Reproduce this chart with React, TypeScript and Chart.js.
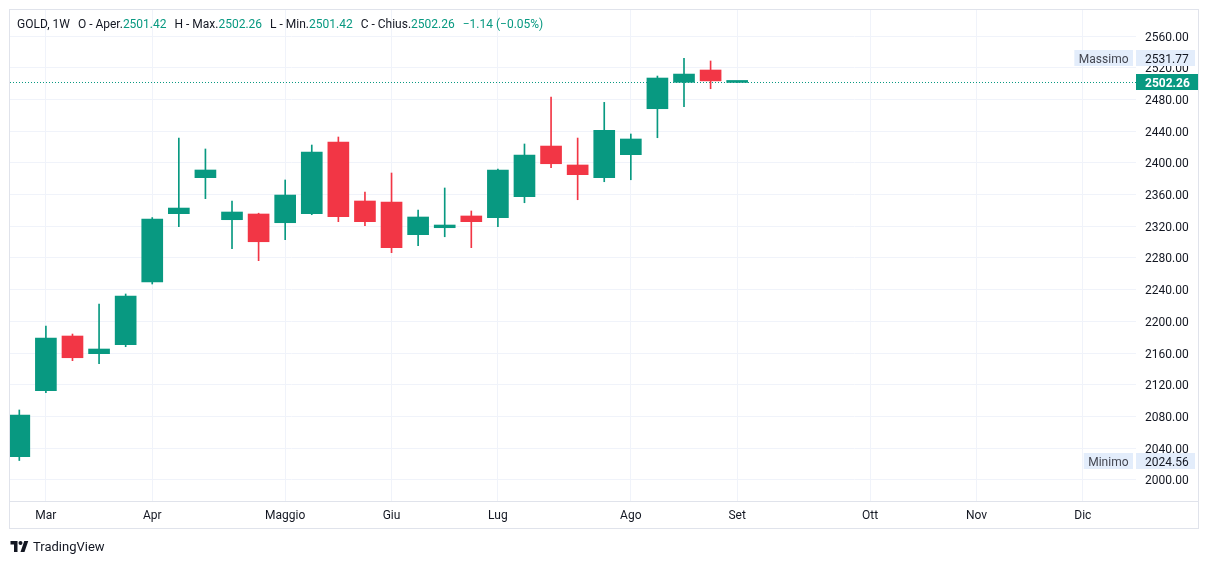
import React, { useEffect, useRef } from "react";
import { Chart, registerables } from "chart.js";

Chart.register(...registerables);

// ---- data ----
const weeks = [
  "2024-02-26", "2024-03-04", "2024-03-11", "2024-03-18", "2024-03-25",
  "2024-04-01", "2024-04-08", "2024-04-15", "2024-04-22", "2024-04-29",
  "2024-05-06", "2024-05-13", "2024-05-20", "2024-05-27", "2024-06-03",
  "2024-06-10", "2024-06-17", "2024-06-24", "2024-07-01", "2024-07-08",
  "2024-07-15", "2024-07-22", "2024-07-29", "2024-08-05", "2024-08-12",
  "2024-08-19", "2024-08-26", "2024-09-02",
];
const opens = [
  2029.4, 2112.6, 2181.6, 2159.3, 2170.6, 2249.7, 2335.9, 2381.3, 2328.3, 2335.5,
  2324.5, 2335.9, 2426.3, 2351.9, 2350.6, 2309.4, 2318.2, 2333.0, 2330.8, 2357.3,
  2421.2, 2397.3, 2381.3, 2410.3, 2468.3, 2501.6, 2517.1, 2501.42,
];
const highs = [
  2088.3, 2194.2, 2184.1, 2222.0, 2234.6, 2331.0, 2431.3, 2417.5, 2351.9, 2336.5,
  2378.4, 2422.5, 2432.6, 2363.2, 2387.2, 2340.5, 2368.3, 2339.3, 2392.2, 2423.8,
  2483.0, 2431.3, 2476.3, 2436.4, 2509.5, 2531.77, 2528.5, 2502.26,
];
const lows = [
  2024.56, 2110.1, 2150.5, 2146.7, 2168.1, 2247.2, 2319.5, 2354.8, 2291.7, 2276.6,
  2303.1, 2334.6, 2325.8, 2320.7, 2286.7, 2295.5, 2306.8, 2293.0, 2319.5, 2349.7,
  2393.9, 2353.5, 2376.2, 2378.7, 2431.7, 2470.8, 2493.5, 2501.42,
];
const closes = [
  2082.0, 2179.1, 2154.2, 2165.2, 2232.0, 2329.2, 2343.0, 2391.0, 2338.0, 2300.5,
  2359.4, 2413.7, 2332.1, 2325.8, 2293.0, 2331.7, 2321.6, 2325.8, 2391.0, 2409.9,
  2398.9, 2385.1, 2441.0, 2430.1, 2507.0, 2512.0, 2503.4, 2502.26,
];
const monthTickIndex = [1, 5, 10, 14, 18, 23, 27, 32, 36, 40];
const monthLabels = ["Mar", "Apr", "Maggio", "Giu", "Lug", "Ago", "Set", "Ott", "Nov", "Dic"];
const priceTicks = [
  2000, 2040, 2080, 2120, 2160, 2200, 2240, 2280, 2320, 2360, 2400, 2440, 2480, 2520, 2560,
];
const highestValue = 2531.77;
const lowestValue = 2024.56;
const lastPrice = 2502.26;

const UP = "#089981";
const DOWN = "#F23645";
const GRID = "#f0f3fa";
const BORDER = "#e0e3eb";
const TEXT = "#131722";
const FONT = "Roboto, 'Noto Sans', sans-serif";

const overlayPlugin = {
  id: "tvOverlay",
  beforeDatasetsDraw(chart: any) {
    const { ctx, chartArea, scales } = chart;
    const py = Math.round(scales.y.getPixelForValue(lastPrice)) + 0.5;
    ctx.save();
    ctx.strokeStyle = UP;
    ctx.lineWidth = 1;
    ctx.setLineDash([1, 2]);
    ctx.beginPath();
    ctx.moveTo(chartArea.left, py);
    ctx.lineTo(chartArea.right, py);
    ctx.stroke();
    ctx.restore();
  },
  afterDraw(chart: any) {
    const { ctx, chartArea, scales } = chart;
    const y = scales.y;
    ctx.save();
    // x-axis top border
    ctx.strokeStyle = BORDER;
    ctx.lineWidth = 1;
    ctx.beginPath();
    ctx.moveTo(chartArea.left, chartArea.bottom + 0.5);
    ctx.lineTo(y.right, chartArea.bottom + 0.5);
    ctx.stroke();

    const axisLeft = y.left;
    const axisRight = y.right;
    const textX = axisLeft + 9;
    const drawHL = (name: string, value: number) => {
      const cy = Math.round(y.getPixelForValue(value));
      const h = 16;
      const top = cy - h / 2;
      ctx.font = `12px ${FONT}`;
      const nameW = ctx.measureText(name).width + 9;
      ctx.fillStyle = "#e3edfb";
      ctx.fillRect(axisLeft, top, axisRight - axisLeft - 3, h);
      ctx.fillRect(axisLeft - 3 - nameW, top, nameW, h);
      ctx.fillStyle = TEXT;
      ctx.textBaseline = "middle";
      ctx.textAlign = "left";
      ctx.fillText(value.toFixed(2), textX, cy + 1.5);
      ctx.fillStyle = "#434651";
      ctx.textAlign = "center";
      ctx.fillText(name, axisLeft - 3 - nameW / 2, cy + 1.5);
    };
    drawHL("Massimo", highestValue);
    drawHL("Minimo", lowestValue);

    // last price label
    const cy = Math.round(y.getPixelForValue(lastPrice));
    ctx.fillStyle = UP;
    ctx.fillRect(axisLeft, cy - 8, axisRight - axisLeft, 16);
    ctx.fillStyle = "#ffffff";
    ctx.font = `bold 12px ${FONT}`;
    ctx.textAlign = "left";
    ctx.textBaseline = "middle";
    ctx.fillText(lastPrice.toFixed(2), textX, cy + 1.5);
    ctx.restore();
  },
};

export default function App() {
  const ref = useRef<HTMLCanvasElement | null>(null);

  useEffect(() => {
    if (!ref.current) return;
    const colorFor = (i: number) => (closes[i] >= opens[i] ? UP : DOWN);
    const chart = new Chart(ref.current, {
      type: "bar",
      data: {
        labels: weeks,
        datasets: [
          {
            label: "wick",
            data: weeks.map((_, i) => ({ x: i, y: [lows[i], highs[i]] })) as any,
            backgroundColor: weeks.map((_, i) => colorFor(i)),
            barThickness: 1,
            grouped: false,
            order: 2,
          } as any,
          {
            label: "body",
            data: weeks.map((_, i) => ({ x: i, y: [opens[i], closes[i]] })) as any,
            backgroundColor: weeks.map((_, i) => colorFor(i)),
            barThickness: 21,
            minBarLength: 2,
            grouped: false,
            order: 1,
          } as any,
        ],
      },
      options: {
        animation: false,
        responsive: false,
        devicePixelRatio: 1,
        layout: { padding: { left: 10, top: 10, right: 11, bottom: 36 } },
        plugins: { legend: { display: false }, tooltip: { enabled: false } },
        scales: {
          x: {
            type: "linear",
            offset: false,
            min: -0.35,
            max: 42.0,
            grid: { color: GRID, drawTicks: false, tickLength: 0, offset: false },
            border: { display: false },
            afterBuildTicks: (scale: any) => {
              scale.ticks = monthTickIndex.map((v) => ({ value: v }));
            },
            afterFit: (scale: any) => {
              scale.height = 27;
              scale.paddingLeft = 0;
              scale.paddingRight = 0;
            },
            ticks: {
              autoSkip: false,
              maxRotation: 0,
              padding: 8,
              color: TEXT,
              font: { family: FONT, size: 12 },
              callback: (v: any) => {
                const k = monthTickIndex.indexOf(Number(v));
                return k >= 0 ? monthLabels[k] : "";
              },
            },
          },
          y: {
            type: "linear",
            position: "right",
            min: 1973.5,
            max: 2592.8,
            grid: { color: GRID, drawTicks: false, tickLength: 0 },
            border: { display: false },
            afterBuildTicks: (scale: any) => {
              scale.ticks = priceTicks.map((v) => ({ value: v }));
            },
            afterFit: (scale: any) => {
              scale.width = 62;
              scale.paddingTop = 0;
              scale.paddingBottom = 0;
            },
            ticks: {
              autoSkip: false,
              padding: 9,
              labelOffset: 1.5,
              crossAlign: "near",
              color: TEXT,
              font: { family: FONT, size: 12 },
              callback: (v: any) => Number(v).toFixed(2),
            },
          },
        },
      } as any,
      plugins: [overlayPlugin],
    });
    return () => chart.destroy();
  }, []);

  const val = { color: UP };
  const gap = { marginLeft: 8 };
  return (
    <div style={{ position: "absolute", left: 0, top: 0, width: 1209, height: 564, background: "#fff", fontFamily: FONT }}>
      <div
        style={{
          position: "absolute",
          left: 9,
          top: 9,
          width: 1190,
          height: 520,
          border: `1px solid ${BORDER}`,
          boxSizing: "border-box",
        }}
      />
      <canvas ref={ref} width={1209} height={564} style={{ position: "absolute", left: 0, top: 0, width: 1209, height: 564 }} />
      <div
        style={{
          position: "absolute",
          left: 17,
          top: 17,
          fontSize: 12,
          lineHeight: "15px",
          color: TEXT,
          whiteSpace: "nowrap",
        }}
      >
        <span>GOLD, 1W</span>
        <span style={gap}>O - Aper.</span>
        <span style={val}>2501.42</span>
        <span style={gap}>H - Max.</span>
        <span style={val}>2502.26</span>
        <span style={gap}>L - Min.</span>
        <span style={val}>2501.42</span>
        <span style={gap}>C - Chius.</span>
        <span style={val}>2502.26</span>
        <span style={{ ...val, marginLeft: 8 }}>−1.14 (−0.05%)</span>
      </div>
      <div
        style={{
          position: "absolute",
          left: 10,
          top: 538,
          height: 16,
          display: "flex",
          alignItems: "center",
          color: TEXT,
          fontSize: 13,
        }}
      >
        <svg width="19" height="11" viewBox="0 0 36 22" style={{ marginRight: 4 }}>
          <path d="M14 22H7V7H0V0h14v22z" fill={TEXT} />
          <circle cx="20" cy="4" r="4" fill={TEXT} />
          <path d="M28 22h-8l7.5-22h8L28 22z" fill={TEXT} />
        </svg>
        <span>TradingView</span>
      </div>
    </div>
  );
}
